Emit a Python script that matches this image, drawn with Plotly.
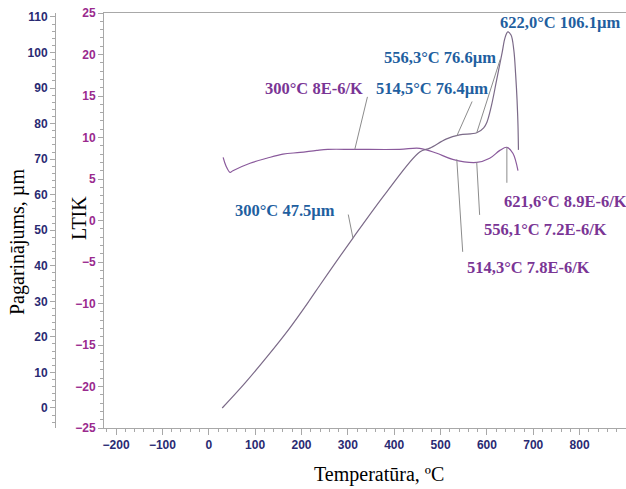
import plotly.graph_objects as go

# Expansion curve (Pagarinājums, µm) vs temperature
exp_T = [29, 78, 125, 173, 218, 240, 311, 384, 455, 477, 513, 541, 578, 593,
         600, 610, 621, 633, 639, 645, 652, 658, 662, 665, 667, 668]
exp_um = [0.0, 7.0, 14.3, 22.2, 30.4, 34.6, 47.8, 60.8, 72.0, 73.1, 75.7, 76.8, 77.4, 78.8,
          80.4, 85.2, 92.3, 100.1, 104.1, 105.8, 104.9, 100.7, 93.7, 86.6, 79.6, 72.6]

# CTE curve (LTIK, 1E-6/K) vs temperature
cte_T = [31, 37, 46, 52, 89, 125, 160, 197, 233, 257, 315, 412, 455, 492, 526, 578,
         606, 628, 643, 656, 667]
cte_L = [7.6, 6.6, 5.8, 6.0, 6.9, 7.5, 8.0, 8.2, 8.45, 8.57, 8.57, 8.57, 8.7, 8.1, 7.37, 7.0,
         7.5, 8.45, 8.82, 8.1, 6.0]

# Annotated points
ann_T = [645, 578, 535, 315, 311, 643, 578, 535]
ann_V = [105.8, 77.4, 76.5, 8.57, 47.8, 8.82, 7.0, 7.37]
ann_axis = ["y2", "y2", "y2", "y", "y2", "y", "y", "y"]
ann_text = ["622,0°C 106.1µm", "556,3°C 76.6µm", "514,5°C 76.4µm", "300°C 8E-6/K",
            "300°C 47.5µm", "621,6°C 8.9E-6/K", "556,1°C 7.2E-6/K", "514,3°C 7.8E-6/K"]
# label centre in pixels and leader tail offsets (pixels)
lab_px = [(560, 22), (440, 57), (432, 88), (314, 88), (285, 210), (565, 202), (545, 230), (528, 267)]
lead = [None, (24, -75), (16, -36), (13, -54), (-5, -25), (0, 37), (3, 54), (6, 94)]

W, H = 626, 489
ML, MR, MT, MB = 0, 0, 13, 61
BLUE = "#1f5f9f"
PURP = "#7a3595"
NAVY = "#2a2a72"
MAG = "#9a2a8e"
GRID = "#a8a8a8"
LINE = "#7b6a88"

fig = go.Figure()
fig.add_trace(go.Scatter(x=exp_T, y=exp_um, yaxis="y2", mode="lines",
                         line=dict(color=LINE, width=1.2), line_shape="spline",
                         showlegend=False, hoverinfo="skip"))
fig.add_trace(go.Scatter(x=cte_T, y=cte_L, yaxis="y", mode="lines",
                         line=dict(color="#8a5a9c", width=1.2), line_shape="spline",
                         showlegend=False, hoverinfo="skip"))

tickfont_common = dict(family="Liberation Sans, Arial", size=12, weight="bold")

x0 = 104 / W
fig.update_layout(
    width=W, height=H,
    margin=dict(l=ML, r=MR, t=MT, b=MB),
    paper_bgcolor="white", plot_bgcolor="white",
    xaxis=dict(domain=[x0, 1], range=[-226, 900], dtick=100, tick0=0,
               showgrid=False, zeroline=False, showline=True, linecolor=GRID, linewidth=1,
               mirror=True, ticks="outside", ticklen=6, tickcolor=GRID,
               minor=dict(dtick=20, ticks="outside", ticklen=3, tickcolor=GRID),
               tickfont=dict(color=NAVY, **tickfont_common)),
    yaxis=dict(range=[-25, 25], dtick=5, tick0=0, showgrid=False, zeroline=False,
               showline=True, linecolor=GRID, linewidth=1, ticks="outside", ticklen=5,
               tickcolor=GRID,
               minor=dict(dtick=1, ticks="outside", ticklen=3, tickcolor=GRID),
               tickfont=dict(color=MAG, **tickfont_common)),
    yaxis2=dict(range=[-5.63, 111.1], dtick=10, tick0=0, overlaying="y", anchor="free",
                position=55 / W, side="left", showgrid=False, zeroline=False,
                showline=True, linecolor=GRID, linewidth=1, ticks="outside", ticklen=5,
                tickcolor=GRID,
                minor=dict(dtick=2, ticks="outside", ticklen=3, tickcolor=GRID),
                tickfont=dict(color=NAVY, **tickfont_common)),
)

PH = H - MT - MB


def px2paper(px, py):
    return (px - ML) / (W - ML - MR), (H - MB - py) / PH


serif = "Liberation Serif, Times New Roman"
annotations = []
for i in range(len(ann_text)):
    col = BLUE if ann_axis[i] == "y2" else PURP
    lx, ly = px2paper(*lab_px[i])
    annotations.append(dict(x=lx, y=ly, xref="paper", yref="paper", text=ann_text[i],
                            showarrow=False, font=dict(family=serif, size=16.5, color=col,
                                                       weight="bold"),
                            xanchor="center", yanchor="middle"))
    if lead[i] is not None:
        annotations.append(dict(x=ann_T[i], y=ann_V[i], xref="x", yref=ann_axis[i], text="",
                                showarrow=True, arrowhead=0, arrowwidth=1, arrowcolor="#8c8c8c",
                                ax=lead[i][0], ay=lead[i][1], axref="pixel", ayref="pixel",
                                standoff=0, startstandoff=0))

# Axis titles
title_font = dict(family=serif, size=20, color="black")
tx, ty = px2paper(18, 242)
annotations.append(dict(x=tx, y=ty, xref="paper", yref="paper", text="Pagarinājums, µm",
                        textangle=-90, showarrow=False, xanchor="center", yanchor="middle",
                        font=title_font))
tx, ty = px2paper(79, 218)
annotations.append(dict(x=tx, y=ty, xref="paper", yref="paper", text="LTIK",
                        textangle=-90, showarrow=False, xanchor="center", yanchor="middle",
                        font=title_font))
tx, ty = px2paper(379, 474)
annotations.append(dict(x=tx, y=ty, xref="paper", yref="paper", text="Temperatūra, ºC",
                        showarrow=False, xanchor="center", yanchor="middle",
                        font=title_font))

fig.update_layout(annotations=annotations)
fig.write_html("out.html")
